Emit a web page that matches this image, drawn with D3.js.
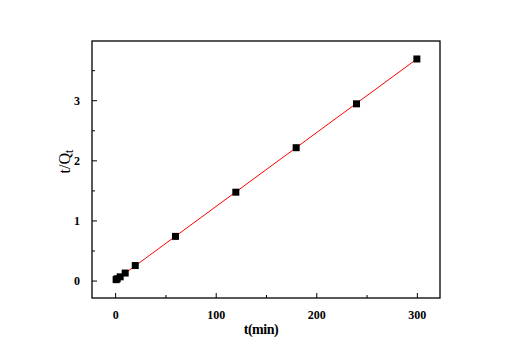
<!DOCTYPE html>
<html><head><meta charset="utf-8">
<script src="https://cdn.jsdelivr.net/npm/d3@7"></script>
<style>body{margin:0;background:#fff}text{font-family:"Liberation Serif","Times New Roman",serif;font-weight:bold}</style>
</head><body><svg id="c" width="514" height="361"></svg>
<script>
const times = [1, 2, 5, 10, 20, 60, 120, 180, 240, 300];
const tOverQ = [0.015, 0.03, 0.062, 0.125, 0.25, 0.735, 1.47, 2.21, 2.94, 3.686];
const fitT = [0, 300];
const fitSlope = 0.012287, fitIntercept = 0.0;
const xTicks = [0, 100, 200, 300];
const yTicks = [0, 1, 2, 3];
const xLabel = "t(min)";

const svg = d3.select("#c");
const L = 92, R = 440, T = 41, B = 298;
const x = d3.scaleLinear().domain([-23, 323]).range([L, R]);
const y = d3.scaleLinear().domain([-0.29, 3.985]).range([B, T]);

svg.append("rect").attr("x", L).attr("y", T).attr("width", R - L).attr("height", B - T)
  .attr("fill", "none").attr("stroke", "#000").attr("stroke-width", 1.3);

const xa = svg.append("g").attr("transform", `translate(0,${B})`)
  .call(d3.axisBottom(x).tickValues(xTicks).tickSize(-5).tickPadding(12).tickFormat(d3.format("d")));
const xm = svg.append("g").attr("transform", `translate(0,${B})`)
  .call(d3.axisBottom(x).tickValues([50, 150, 250]).tickSize(-3).tickFormat(""));
const ya = svg.append("g").attr("transform", `translate(${L},0)`)
  .call(d3.axisLeft(y).tickValues(yTicks).tickSize(-5).tickPadding(12).tickFormat(d3.format("d")));
const ym = svg.append("g").attr("transform", `translate(${L},0)`)
  .call(d3.axisLeft(y).tickValues([0.5, 1.5, 2.5, 3.5]).tickSize(-3).tickFormat(""));
[xa, xm, ya, ym].forEach(g => {
  g.select(".domain").remove();
  g.selectAll("line").attr("stroke", "#000").attr("stroke-width", 1);
  g.selectAll("text").attr("fill", "#000").style("font-size", "12px").style("font-family", '"Liberation Serif",serif').style("font-weight", "bold");
});

svg.append("line")
  .attr("x1", x(fitT[0])).attr("y1", y(fitIntercept + fitSlope * fitT[0]))
  .attr("x2", x(fitT[1])).attr("y2", y(fitIntercept + fitSlope * fitT[1]))
  .attr("stroke", "#f00").attr("stroke-width", 1);

const s = 7;
svg.append("g").selectAll("rect").data(times).join("rect")
  .attr("x", (d) => x(d) - s / 2).attr("y", (d, i) => y(tOverQ[i]) - s / 2)
  .attr("width", s).attr("height", s).attr("fill", "#000");

svg.append("text").attr("x", x(145)).attr("y", 334).attr("text-anchor", "middle")
  .style("font-size", "14px").style("letter-spacing", "-0.5px").text(xLabel);

const yl = svg.append("text").attr("transform", `translate(70,${y(1.98)}) rotate(-90)`)
  .attr("text-anchor", "middle").style("font-size", "16px").style("font-weight", "normal");
yl.append("tspan").text("t/Q");
yl.append("tspan").attr("dy", 3).style("font-size", "12px").text("t");
</script></body></html>
